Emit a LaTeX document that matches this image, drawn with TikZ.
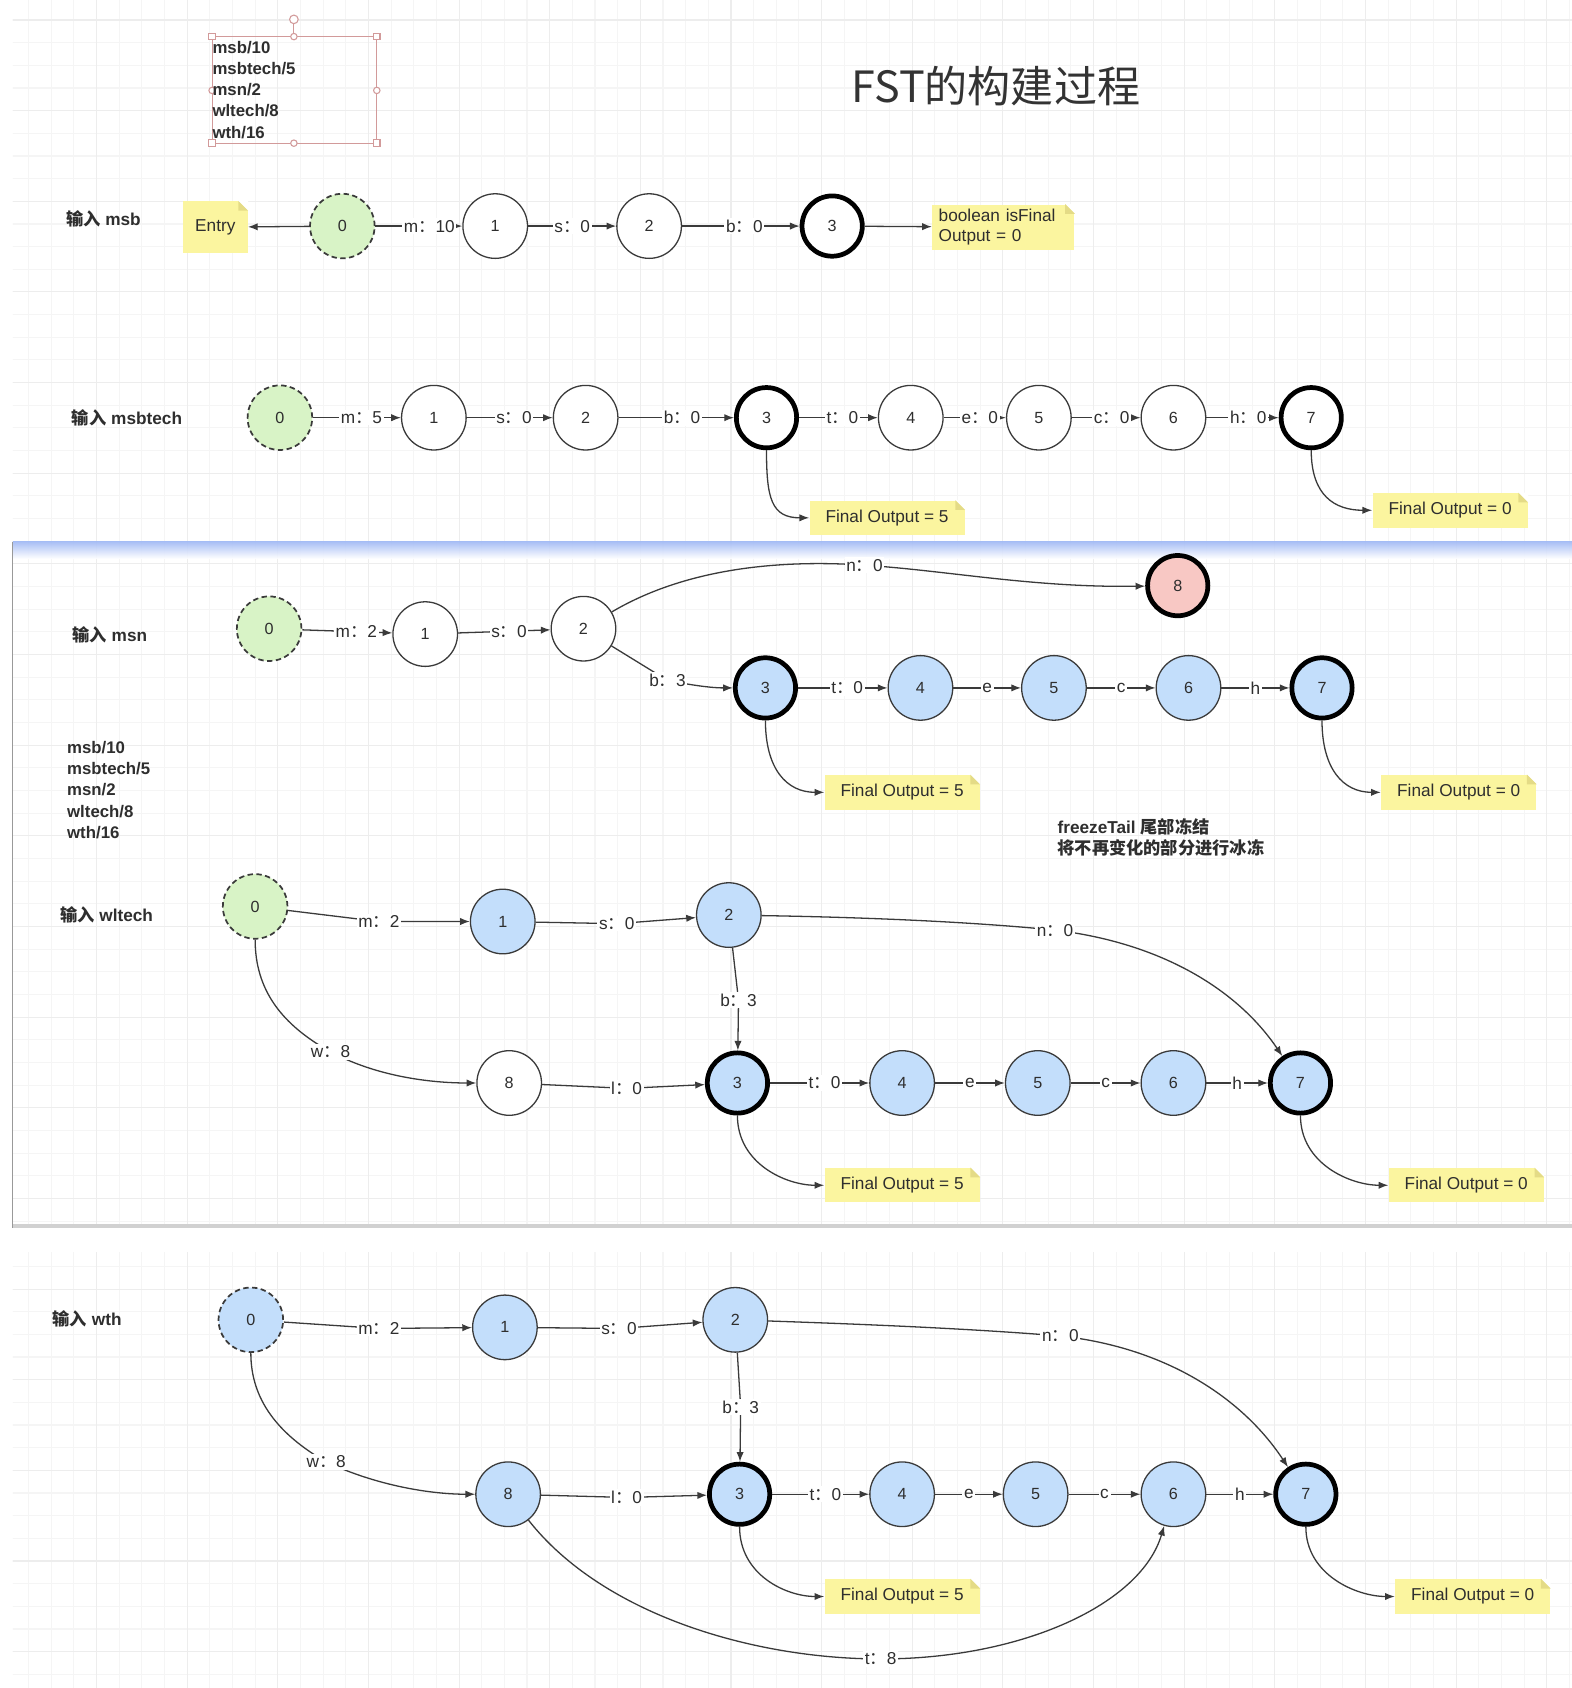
\documentclass[tikz,border=0pt]{standalone}
\usepackage{fontspec}
\setmainfont{Liberation Sans}
\newfontfamily\cjk{Noto Sans CJK SC}
\usetikzlibrary{arrows.meta,calc}
\definecolor{txt}{HTML}{2E2E2E}
\definecolor{edgec}{HTML}{3A3A3A}
\definecolor{gfill}{HTML}{D8F3C6}
\definecolor{bfill}{HTML}{C3DEFB}
\definecolor{rfill}{HTML}{F8C8C4}
\definecolor{noteY}{HTML}{FBF59F}
\definecolor{foldc}{HTML}{E4DB86}
\definecolor{gminor}{HTML}{F5F5F5}
\definecolor{gmajor}{HTML}{EDEDED}
\definecolor{bandtop}{HTML}{9FB8F5}
\definecolor{selc}{HTML}{D29A9A}
\newcommand\fcolon{{\cjk ：}}
\newcommand\foldnote[1]{%
  \fill[white] ($(#1.north east)+(-9,0)$) -- (#1.north east) -- ($(#1.north east)+(0,9)$) -- cycle;
  \fill[foldc] ($(#1.north east)+(-9,0)$) -- ($(#1.north east)+(0,9)$) -- ($(#1.north east)+(-9,9)$) -- cycle;}
\begin{document}
\begin{tikzpicture}[x=0.5pt,y=-0.5pt,
  every node/.style={text=txt},
  st/.style={circle, draw=edgec, line width=0.6pt, minimum size=30pt, inner sep=0pt, font=\fontsize{7.5}{9}\selectfont},
  fin/.style={st, draw=black, line width=2.2pt, minimum size=28pt},
  startst/.style={st, dash pattern=on 2.5pt off 1.6pt, line width=0.8pt},
  gst/.style={fill=gfill}, bst/.style={fill=bfill}, rst/.style={fill=rfill}, wst/.style={fill=white},
  lbl/.style={fill=white, inner sep=0.8pt, font=\fontsize{8}{9}\selectfont},
  arr/.style={draw=edgec, line width=0.6pt, -{Latex[length=4.5pt,width=3.4pt]}},
  note/.style={fill=noteY, minimum width=72pt, minimum height=16pt, inner sep=2pt, font=\fontsize{8}{9.5}\selectfont},
  head/.style={font=\bfseries\fontsize{8}{9}\selectfont, inner sep=0pt},
  listt/.style={font=\bfseries\fontsize{7.8}{9}\selectfont, inner sep=0pt, anchor=west},
]
\useasboundingbox (0,0) rectangle (1460,1568);
\fill[white] (0,0) rectangle (1460,1568);
% grid
\begin{scope}
\clip (12,0) rectangle (1460,1568);
\foreach \i in {0,...,69} \draw[gminor, line width=0.5pt] ({5.4+21.05*\i},0) -- ++(0,1568);
\foreach \j in {0,...,74} \draw[gminor, line width=0.5pt] (0,{18.6+21.05*\j}) -- ++(1460,0);
\foreach \i in {0,...,17} \draw[gmajor, line width=0.5pt] ({5.4+84.2*\i},0) -- ++(0,1568);
\foreach \j in {0,...,18} \draw[gmajor, line width=0.5pt] (0,{18.6+84.2*\j}) -- ++(1460,0);
\end{scope}
\fill[white] (0,1141) rectangle (1460,1163);
\shade[top color=bandtop, bottom color=white, opacity=0.9] (12,503) rectangle (1460,519);
\fill[black!18] (12,1137) rectangle (1460,1141);
\draw[black!40, line width=0.5pt] (12,503) -- (12,1141);

% selection box with list
\draw[selc, line width=0.5pt] (197,34) rectangle (350,133);
\draw[selc, line width=0.5pt] (273,22) -- (273,34);
\filldraw[fill=white, draw=selc, line width=0.5pt] (273,18) circle[radius=4];
\foreach \p in {(197,34),(350,34),(197,133),(350,133)}
  \filldraw[fill=white, draw=selc, line width=0.5pt] \p ++(-3,-3) rectangle ++(6,6);
\foreach \p in {(273,34),(273,133),(197,84),(350,84)}
  \filldraw[fill=white, draw=selc, line width=0.5pt] \p circle[radius=3];
\node[listt] (t1) at (197,44) {msb/10};
\node[listt] (t2) at (197,63.5) {msbtech/5};
\node[listt] (t3) at (197,83) {msn/2};
\node[listt] (t4) at (197,103) {wltech/8};
\node[listt] (t5) at (197,123) {wth/16};

\node[font=\cjk\fontsize{20}{24}\selectfont, text=black!80] (title) at (925,80) {FST的构建过程};

% ---------- section 1: msb
\node[head] (h1) at (96,203) {{\cjk 输入} msb};
\node[note, minimum width=30pt, minimum height=24pt] (aE) at (200,211) {Entry};
\foldnote{aE}
\node[st, startst, gst] (a0) at (318,210) {0};
\node[st, wst] (a1) at (460,210) {1};
\node[st, wst] (a2) at (603,210) {2};
\node[fin, wst] (a3) at (773,210) {3};
\node[note, minimum width=66pt, minimum height=21pt, align=left, text width=60pt, inner xsep=3pt] (aN) at (932,211) {boolean isFinal\\Output = 0};
\foldnote{aN}
\draw[arr] (a0) -- (aE);
\draw[arr] (a0) -- node[lbl, pos=0.62] {m\fcolon 10} (a1);
\draw[arr] (a1) -- node[lbl, pos=0.5] {s\fcolon 0} (a2);
\draw[arr] (a2) -- node[lbl, pos=0.53] {b\fcolon 0} (a3);
\draw[arr] (a3) -- (aN);

% ---------- section 2: msbtech
\node[head] (h2) at (118,388) {{\cjk 输入} msbtech};
\node[st, startst, gst] (b0) at (260,388) {0};
\node[st, wst] (b1) at (403,388) {1};
\node[st, wst] (b2) at (544,388) {2};
\node[fin, wst] (b3) at (712,388) {3};
\node[st, wst] (b4) at (846,388) {4};
\node[st, wst] (b5) at (965,388) {5};
\node[st, wst] (b6) at (1090,388) {6};
\node[fin, wst] (b7) at (1218,388) {7};
\draw[arr] (b0) -- node[lbl, pos=0.55] {m\fcolon 5} (b1);
\draw[arr] (b1) -- node[lbl, pos=0.55] {s\fcolon 0} (b2);
\draw[arr] (b2) -- node[lbl, pos=0.55] {b\fcolon 0} (b3);
\draw[arr] (b3) -- node[lbl, pos=0.55] {t\fcolon 0} (b4);
\draw[arr] (b4) -- node[lbl, pos=0.58] {e\fcolon 0} (b5);
\draw[arr] (b5) -- node[lbl, pos=0.58] {c\fcolon 0} (b6);
\draw[arr] (b6) -- node[lbl, pos=0.58] {h\fcolon 0} (b7);
\node[note] (bF5) at (824,481) {Final Output = 5};
\foldnote{bF5}
\node[note] (bF0) at (1347,474) {Final Output = 0};
\foldnote{bF0}
\draw[arr] (b3.south) .. controls +(0,45) and +(-35,0) .. (bF5.west);
\draw[arr] (b7.south) .. controls +(0,42) and +(-35,0) .. (bF0.west);

% ---------- section 3: msn
\node[head] (h3) at (102,590) {{\cjk 输入} msn};
\node[st, startst, gst] (c0) at (250,584) {0};
\node[st, wst] (c1) at (395,589) {1};
\node[st, wst] (c2) at (542,584) {2};
\node[fin, rst] (c8) at (1094,544) {8};
\node[fin, bst] (c3) at (711,639) {3};
\node[st, bst] (c4) at (855,639) {4};
\node[st, bst] (c5) at (979,639) {5};
\node[st, bst] (c6) at (1104,639) {6};
\node[fin, bst] (c7) at (1228,639) {7};
\draw[arr] (c0) -- node[lbl, pos=0.6] {m\fcolon 2} (c1);
\draw[arr] (c1) -- node[lbl, pos=0.55] {s\fcolon 0} (c2);
\draw[arr] (c2) .. controls (640,526) and (730,520) .. (803,525) node[lbl] {n\fcolon 0} .. controls (880,530) and (960,546) .. (c8);
\draw[arr] (c2) -- (620,632) node[lbl] {b\fcolon 3} .. controls (650,638) and (665,639) .. (c3);
\draw[arr] (c3) -- node[lbl, pos=0.55] {t\fcolon 0} (c4);
\draw[arr] (c4) -- node[lbl] {e} (c5);
\draw[arr] (c5) -- node[lbl] {c} (c6);
\draw[arr] (c6) -- node[lbl] {h} (c7);
\node[note] (cF5) at (838,736) {Final Output = 5};
\foldnote{cF5}
\node[note] (cF0) at (1355,736) {Final Output = 0};
\foldnote{cF0}
\draw[arr] (c3.south) .. controls +(0,45) and +(-35,0) .. (cF5.west);
\draw[arr] (c7.south) .. controls +(0,45) and +(-35,0) .. (cF0.west);
\node[listt] (m1) at (62,694) {msb/10};
\node[listt] (m2) at (62,714) {msbtech/5};
\node[listt] (m3) at (62,733.5) {msn/2};
\node[listt] (m4) at (62,753.5) {wltech/8};
\node[listt] (m5) at (62,773) {wth/16};
\node[head, anchor=west] (fz1) at (982,768) {freezeTail {\cjk 尾部冻结}};
\node[head, anchor=west] (fz2) at (982,788) {\cjk 将不再变化的部分进行冰冻};

% ---------- section 4: wltech
\node[head] (h4) at (99,850) {{\cjk 输入} wltech};
\node[st, startst, gst] (d0) at (237,842) {0};
\node[st, bst] (d1) at (467,856) {1};
\node[st, bst] (d2) at (677,850) {2};
\node[st, wst] (d8) at (473,1006) {8};
\node[fin, bst] (d3) at (685,1006) {3};
\node[st, bst] (d4) at (838,1006) {4};
\node[st, bst] (d5) at (964,1006) {5};
\node[st, bst] (d6) at (1090,1006) {6};
\node[fin, bst] (d7) at (1208,1006) {7};
\draw[arr] (d0) -- (352,856) node[lbl] {m\fcolon 2} -- (d1);
\draw[arr] (d1) -- (573,858) node[lbl] {s\fcolon 0} -- (d2);
\draw[arr] (d2) .. controls (800,852) and (900,856) .. (980,864) node[lbl] {n\fcolon 0} .. controls (1080,876) and (1150,920) .. (d7);
\draw[arr] (d2) -- (686,929) node[lbl] {b\fcolon 3} -- (d3);
\draw[arr] (d0) .. controls (237,920) and (262,952) .. (307,977) node[lbl] {w\fcolon 8} .. controls (350,1000) and (400,1006) .. (d8);
\draw[arr] (d8) -- (582,1011) node[lbl] {l\fcolon 0} -- (d3);
\draw[arr] (d3) -- node[lbl, pos=0.55] {t\fcolon 0} (d4);
\draw[arr] (d4) -- node[lbl] {e} (d5);
\draw[arr] (d5) -- node[lbl] {c} (d6);
\draw[arr] (d6) -- node[lbl] {h} (d7);
\node[note] (dF5) at (838,1101) {Final Output = 5};
\foldnote{dF5}
\node[note] (dF0) at (1362,1101) {Final Output = 0};
\foldnote{dF0}
\draw[arr] (d3.south) .. controls +(0,45) and +(-35,0) .. (dF5.west);
\draw[arr] (d7.south) .. controls +(0,45) and +(-35,0) .. (dF0.west);

% ---------- section 5: wth
\node[head] (h5) at (81,1225) {{\cjk 输入} wth};
\node[st, startst, bst] (e0) at (233,1226) {0};
\node[st, bst] (e1) at (469,1233) {1};
\node[st, bst] (e2) at (683,1226) {2};
\node[st, bst] (e8) at (472,1388) {8};
\node[fin, bst] (e3) at (687,1388) {3};
\node[st, bst] (e4) at (838,1388) {4};
\node[st, bst] (e5) at (962,1388) {5};
\node[st, bst] (e6) at (1090,1388) {6};
\node[fin, bst] (e7) at (1213,1388) {7};
\draw[arr] (e0) -- (352,1234) node[lbl] {m\fcolon 2} -- (e1);
\draw[arr] (e1) -- (575,1234) node[lbl] {s\fcolon 0} -- (e2);
\draw[arr] (e2) .. controls (800,1230) and (900,1234) .. (985,1241) node[lbl] {n\fcolon 0} .. controls (1085,1252) and (1155,1300) .. (e7);
\draw[arr] (e2) -- (688,1307) node[lbl] {b\fcolon 3} -- (e3);
\draw[arr] (e0) .. controls (233,1300) and (258,1332) .. (303,1358) node[lbl] {w\fcolon 8} .. controls (350,1380) and (400,1388) .. (e8);
\draw[arr] (e8) -- (582,1391) node[lbl] {l\fcolon 0} -- (e3);
\draw[arr] (e3) -- node[lbl, pos=0.55] {t\fcolon 0} (e4);
\draw[arr] (e4) -- node[lbl] {e} (e5);
\draw[arr] (e5) -- node[lbl] {c} (e6);
\draw[arr] (e6) -- node[lbl] {h} (e7);
\draw[arr] (e8) .. controls (560,1500) and (700,1541) .. (818,1541) node[lbl] {t\fcolon 8} .. controls (950,1541) and (1060,1490) .. (e6);
\node[note] (eF5) at (838,1483) {Final Output = 5};
\foldnote{eF5}
\node[note] (eF0) at (1368,1483) {Final Output = 0};
\foldnote{eF0}
\draw[arr] (e3.south) .. controls +(0,45) and +(-35,0) .. (eF5.west);
\draw[arr] (e7.south) .. controls +(0,45) and +(-35,0) .. (eF0.west);
\end{tikzpicture}
\end{document}
